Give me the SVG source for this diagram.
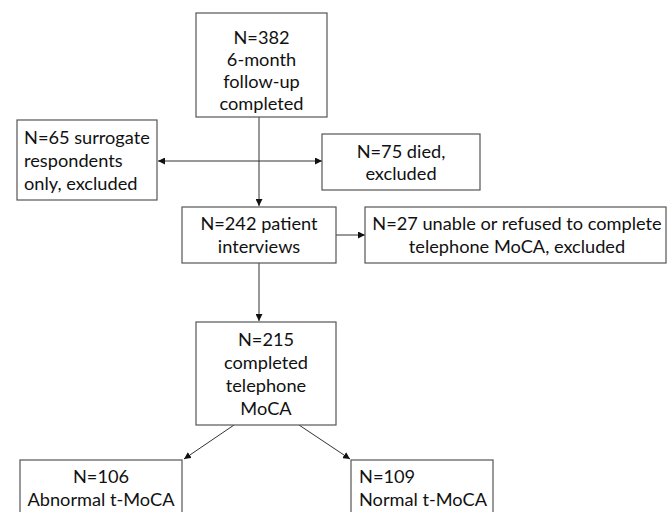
<svg xmlns="http://www.w3.org/2000/svg" width="668" height="512" viewBox="0 0 668 512">
<style>
.box{fill:#fff;stroke:#555;stroke-width:1.2}
.t{font-family:Lato,"Liberation Sans",Arial,sans-serif;font-size:18.2px;fill:#111}
.c{text-anchor:middle}
.ln{stroke:#333;stroke-width:1;fill:none}
</style>
<defs>
<marker id="ah" viewBox="0 0 10 10" refX="10" refY="5" markerWidth="7" markerHeight="7" orient="auto-start-reverse" markerUnits="userSpaceOnUse">
<path d="M0,0 L10,5 L0,10 z" fill="#111"/>
</marker>
</defs>
<rect width="668" height="512" fill="#fff"/>
<g id="connectors">
<line class="ln" x1="259" y1="117" x2="259" y2="206" marker-end="url(#ah)"/>
<line class="ln" x1="158" y1="161" x2="322" y2="161" marker-start="url(#ah)" marker-end="url(#ah)"/>
<line class="ln" x1="336" y1="235" x2="365" y2="235" marker-end="url(#ah)"/>
<line class="ln" x1="259" y1="263" x2="259" y2="321" marker-end="url(#ah)"/>
<line class="ln" x1="234" y1="425" x2="184" y2="459" marker-end="url(#ah)"/>
<line class="ln" x1="299" y1="425" x2="350" y2="459" marker-end="url(#ah)"/>
</g>
<g id="n382">
<rect class="box" x="196" y="13" width="131" height="104"/>
<text class="t c" x="261.5" y="44">N=382</text>
<text class="t c" x="261.5" y="66">6-month</text>
<text class="t c" x="261.5" y="88">follow-up</text>
<text class="t c" x="261.5" y="110">completed</text>
</g>
<g id="n65">
<rect class="box" x="17" y="120" width="140" height="80"/>
<text class="t" x="24" y="144">N=65 surrogate</text>
<text class="t" x="24" y="167">respondents</text>
<text class="t" x="24" y="190">only, excluded</text>
</g>
<g id="n75">
<rect class="box" x="322" y="134" width="158" height="56"/>
<text class="t c" x="401" y="158">N=75 died,</text>
<text class="t c" x="401" y="180">excluded</text>
</g>
<g id="n242">
<rect class="box" x="182" y="207" width="154" height="56"/>
<text class="t c" x="259" y="230">N=242 patient</text>
<text class="t c" x="259" y="253">interviews</text>
</g>
<g id="n27">
<rect class="box" x="365" y="207" width="301" height="56"/>
<text class="t c" x="517" y="230">N=27 unable or refused to complete</text>
<text class="t c" x="517" y="253">telephone MoCA, excluded</text>
</g>
<g id="n215">
<rect class="box" x="196" y="322" width="140" height="103"/>
<text class="t c" x="266" y="346">N=215</text>
<text class="t c" x="266" y="369">completed</text>
<text class="t c" x="266" y="392">telephone</text>
<text class="t c" x="266" y="415">MoCA</text>
</g>
<g id="n106">
<rect class="box" x="20" y="460" width="162" height="60"/>
<text class="t c" x="101" y="483">N=106</text>
<text class="t c" x="101" y="506">Abnormal t-MoCA</text>
</g>
<g id="n109">
<rect class="box" x="351" y="460" width="142" height="60"/>
<text class="t" x="359" y="483">N=109</text>
<text class="t" x="359" y="506">Normal t-MoCA</text>
</g>
</svg>
